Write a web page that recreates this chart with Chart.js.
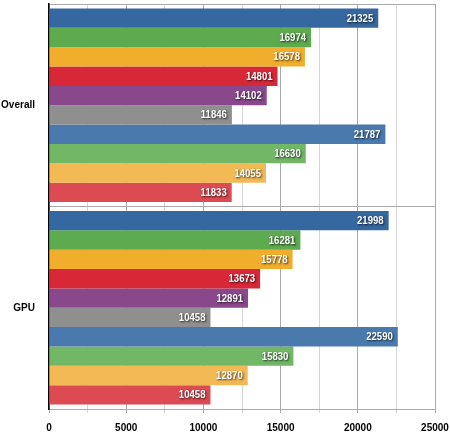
<!DOCTYPE html>
<html>
<head>
<meta charset="utf-8">
<script src="https://cdn.jsdelivr.net/npm/chart.js@4.4.1/dist/chart.umd.min.js"></script>
<style>
html,body{margin:0;padding:0;background:#fff;}
#wrap{width:450px;height:434px;position:relative;}
</style>
</head>
<body>
<div id="wrap"><canvas id="c"></canvas></div>
<script>
const categories = ['Overall', 'GPU'];
const overallValues = [21325, 16974, 16578, 14801, 14102, 11846, 21787, 16630, 14055, 11833];
const gpuValues = [21998, 16281, 15778, 13673, 12891, 10458, 22590, 15830, 12870, 10458];
const seriesNames = ['S1','S2','S3','S4','S5','S6','S7','S8','S9','S10'];
const seriesColors = ['#3567A0','#5DAA4F','#F1AE2D','#D82838','#8A488C','#8E8F8E','#4A79AE','#71B766','#F2B955','#DC4A52'];
const xTickMax = 25000;

const FONT = "'Liberation Sans',Arial,sans-serif";

const datasets = seriesNames.map((name, i) => ({
  label: name,
  data: [overallValues[i], gpuValues[i]],
  backgroundColor: seriesColors[i],
  borderWidth: 0,
  categoryPercentage: 0.956,
  barPercentage: 1.0
}));

const valueLabels = {
  id: 'valueLabels',
  afterDatasetsDraw(chart) {
    const ctx = chart.ctx;
    const sx = 0.87;
    chart.data.datasets.forEach((ds, i) => {
      const meta = chart.getDatasetMeta(i);
      meta.data.forEach((el, j) => {
        ctx.save();
        ctx.font = "bold 11px " + FONT;
        ctx.textAlign = 'right';
        ctx.textBaseline = 'middle';
        ctx.fillStyle = '#ffffff';
        ctx.shadowColor = 'rgba(0,0,0,0.75)';
        ctx.shadowBlur = 2;
        ctx.shadowOffsetX = 1;
        ctx.shadowOffsetY = 1;
        ctx.translate(el.x - 5, el.y + 0.5);
        ctx.scale(sx, 1);
        ctx.fillText(String(ds.data[j]), 0, 0);
        ctx.restore();
      });
    });
  }
};

new Chart(document.getElementById('c'), {
  type: 'bar',
  data: { labels: categories, datasets },
  options: {
    indexAxis: 'y',
    responsive: true,
    maintainAspectRatio: false,
    animation: false,
    layout: { padding: { top: 4, right: 15, left: 0, bottom: 0 } },
    plugins: { legend: { display: false }, tooltip: { enabled: false } },
    scales: {
      x: {
        min: 0,
        max: xTickMax,
        ticks: {
          stepSize: 2500,
          autoSkip: false,
          maxRotation: 0,
          padding: 9,
          color: '#000',
          font: { family: FONT, size: 10, weight: 'bold' },
          callback: (v) => (v % 5000 === 0 ? String(v) : '')
        },
        grid: {
          color: (c) => (c.tick && c.tick.value % 5000 === 0 ? '#a9a9a9' : '#d6d6d6'),
          lineWidth: 1,
          tickLength: 4
        },
        border: { color: '#a9a9a9', width: 1 },
        afterFit(s) { s.height = 25; s.paddingLeft = 0; s.paddingRight = 0; }
      },
      y: {
        ticks: {
          padding: 14,
          color: '#000',
          font: { family: FONT, size: 10, weight: 'bold' }
        },
        grid: {
          color: '#a9a9a9',
          lineWidth: 1,
          drawTicks: false,
          tickLength: 0
        },
        border: { color: '#000', width: 1.5 },
        afterFit(s) { s.width = 49; s.paddingTop = 0; s.paddingBottom = 0; }
      }
    }
  },
  plugins: [valueLabels]
});
</script>
</body>
</html>
